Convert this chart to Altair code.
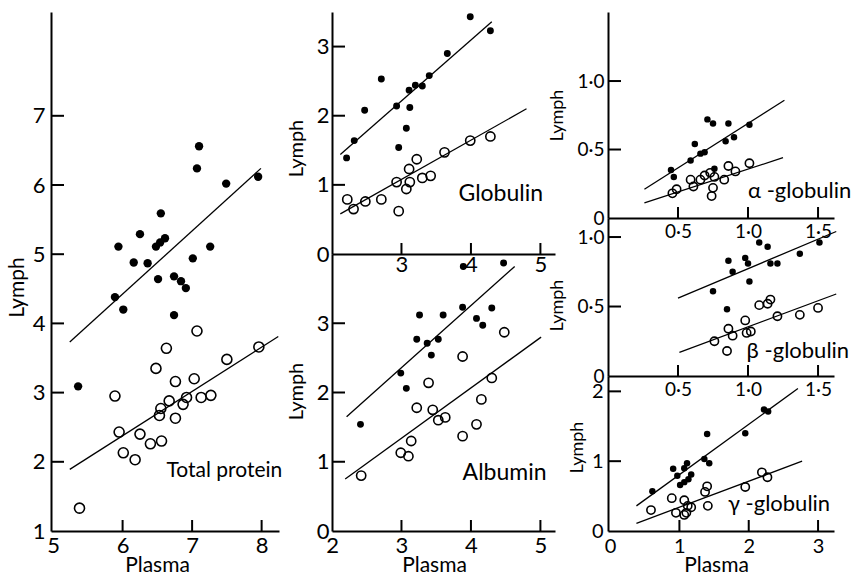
import altair as alt
import pandas as pd

FONT = "Lato, Open Sans, sans-serif"

# ---------------- data ----------------
# Total protein
tp_f_x = [7.10, 7.07, 7.49, 7.95, 6.55, 6.25, 5.94, 6.48, 6.54, 6.61, 7.26, 6.16, 6.36, 7.01, 6.51, 6.74, 6.84, 6.91, 5.89, 6.01, 6.74, 5.36]
tp_f_y = [6.56, 6.24, 6.02, 6.12, 5.59, 5.29, 5.11, 5.11, 5.17, 5.23, 5.11, 4.88, 4.87, 4.94, 4.64, 4.68, 4.61, 4.51, 4.38, 4.20, 4.12, 3.09]
tp_o_x = [7.07, 6.63, 6.48, 7.50, 7.96, 6.76, 7.03, 5.89, 7.13, 7.27, 6.92, 6.67, 6.87, 6.55, 6.53, 6.76, 5.95, 6.25, 6.40, 6.56, 6.01, 6.18, 5.38]
tp_o_y = [3.89, 3.64, 3.35, 3.48, 3.66, 3.16, 3.20, 2.95, 2.93, 2.96, 2.93, 2.88, 2.83, 2.77, 2.67, 2.63, 2.43, 2.40, 2.26, 2.30, 2.13, 2.03, 1.33]
tp_lf_x = [5.24, 7.99]
tp_lf_y = [3.73, 6.24]
tp_lo_x = [5.24, 8.24]
tp_lo_y = [1.89, 3.81]

# Globulin
gl_f_x = [3.99, 4.28, 3.66, 3.40, 2.71, 3.20, 3.30, 3.11, 2.93, 3.12, 2.47, 3.07, 2.32, 2.96, 2.21]
gl_f_y = [3.43, 3.23, 2.90, 2.58, 2.53, 2.44, 2.43, 2.37, 2.14, 2.12, 2.08, 1.82, 1.64, 1.54, 1.39]
gl_o_x = [4.28, 3.99, 3.62, 3.22, 3.11, 3.42, 3.30, 2.93, 3.12, 3.07, 2.22, 2.48, 2.71, 2.31, 2.96]
gl_o_y = [1.70, 1.64, 1.47, 1.37, 1.23, 1.13, 1.10, 1.04, 1.04, 0.94, 0.79, 0.76, 0.79, 0.65, 0.62]
gl_lf_x = [2.12, 4.30]
gl_lf_y = [1.44, 3.36]
gl_lo_x = [2.12, 4.80]
gl_lo_y = [0.58, 2.10]

# Albumin
al_f_x = [3.89, 4.47, 3.88, 4.30, 4.08, 4.17, 3.26, 3.60, 3.22, 3.37, 3.53, 3.43, 2.99, 3.07, 2.41]
al_f_y = [3.82, 3.87, 3.23, 3.22, 3.07, 2.97, 3.12, 3.12, 2.77, 2.71, 2.77, 2.54, 2.28, 2.06, 1.54]
al_o_x = [4.48, 3.88, 3.39, 4.30, 3.22, 3.45, 4.15, 3.53, 3.63, 4.08, 3.88, 3.14, 2.99, 3.10, 2.42]
al_o_y = [2.87, 2.52, 2.14, 2.21, 1.78, 1.75, 1.90, 1.60, 1.64, 1.54, 1.37, 1.30, 1.13, 1.08, 0.80]
al_lf_x = [2.21, 4.63]
al_lf_y = [1.65, 3.82]
al_lo_x = [2.19, 5.01]
al_lo_y = [0.75, 2.80]

# alpha-globulin
a_f_x = [0.71, 0.75, 0.86, 1.01, 0.90, 0.84, 0.62, 0.69, 0.66, 0.59, 0.45, 0.47, 0.76]
a_f_y = [0.72, 0.69, 0.69, 0.68, 0.59, 0.56, 0.54, 0.48, 0.47, 0.42, 0.35, 0.30, 0.36]
a_o_x = [1.01, 0.86, 0.91, 0.83, 0.73, 0.76, 0.69, 0.66, 0.59, 0.61, 0.75, 0.74, 0.49, 0.46]
a_o_y = [0.40, 0.38, 0.34, 0.28, 0.33, 0.30, 0.31, 0.28, 0.28, 0.23, 0.22, 0.16, 0.21, 0.18]
a_lf_x = [0.26, 1.26]
a_lf_y = [0.21, 0.86]
a_lo_x = [0.26, 1.25]
a_lo_y = [0.11, 0.44]

# beta-globulin
b_f_x = [1.08, 1.14, 1.51, 1.37, 0.98, 0.86, 1.00, 1.16, 1.21, 0.89, 1.01, 0.75, 0.85]
b_f_y = [0.96, 0.93, 0.96, 0.88, 0.85, 0.83, 0.81, 0.81, 0.81, 0.75, 0.68, 0.61, 0.48]
b_o_x = [1.08, 1.14, 1.16, 1.50, 1.37, 1.21, 0.98, 0.86, 1.02, 0.99, 0.89, 0.76, 0.85]
b_o_y = [0.51, 0.52, 0.55, 0.49, 0.44, 0.43, 0.40, 0.34, 0.32, 0.31, 0.29, 0.25, 0.18]
b_lf_x = [0.50, 1.63]
b_lf_y = [0.56, 1.04]
b_lo_x = [0.51, 1.63]
b_lo_y = [0.17, 0.59]

# gamma-globulin
g_f_x = [2.22, 2.28, 1.95, 1.40, 1.36, 1.43, 1.11, 1.07, 0.91, 0.97, 1.17, 1.13, 1.07, 1.01, 0.61]
g_f_y = [1.74, 1.71, 1.40, 1.39, 1.03, 0.97, 0.97, 0.90, 0.89, 0.79, 0.81, 0.74, 0.70, 0.66, 0.57]
g_o_x = [2.19, 2.27, 1.95, 1.40, 1.37, 1.41, 0.89, 1.07, 1.12, 1.17, 0.59, 0.95, 1.07, 1.10]
g_o_y = [0.84, 0.77, 0.63, 0.64, 0.56, 0.36, 0.47, 0.44, 0.36, 0.34, 0.30, 0.26, 0.23, 0.26]
g_lf_x = [0.38, 2.71]
g_lf_y = [0.36, 2.04]
g_lo_x = [0.38, 2.77]
g_lo_y = [0.11, 1.00]

INT_FMT = "format(datum.value, 'd')"
DEC_FMT = "datum.value == 0 ? '0' : replace(format(datum.value, '.1f'), '.', '\u00b7')"

W, H = 783, 519   # whole drawing area shared by the six panels


def panel(fx, fy, ox, oy, lfx, lfy, lox, loy, xdom, ydom, xr, yr,
          xlab, ylab, xtick, ytick, fmt, label, lab_xy,
          fsize, osize, ytitle_xy, xtitle_xy=None,
          xlabpad=5, ylabpad=5, lab_fs=22, ttl_fs=21, txt_fs=22):
    xs = alt.Scale(domain=xdom, range=xr, nice=False, zero=False)
    ys = alt.Scale(domain=ydom, range=yr, nice=False, zero=False)
    xoff = -(H - yr[0])      # move bottom axis up to the panel's bottom
    yoff = -xr[0]            # move left axis right to the panel's left edge
    xkw = dict(orient="bottom", values=xlab, labelExpr=fmt, tickSize=0, grid=False,
               offset=xoff, domainColor="black", domainWidth=2,
               labelFont=FONT, labelFontSize=lab_fs, labelColor="black",
               labelPadding=xlabpad, labelFlush=False, labelOverlap=False,
               titleFont=FONT, titleFontSize=21, titleFontWeight="normal",
               titleColor="black")
    if xtitle_xy:
        xkw.update(title="Plasma", titleX=xtitle_xy[0], titleY=xtitle_xy[1])
    else:
        xkw.update(title="")
    xaxis = alt.Axis(**xkw)
    yaxis = alt.Axis(orient="left", values=ylab, labelExpr=fmt, tickSize=0, grid=False,
                     offset=yoff, domainColor="black", domainWidth=2,
                     labelFont=FONT, labelFontSize=lab_fs, labelColor="black",
                     labelPadding=ylabpad, labelFlush=False, labelOverlap=False,
                     title="Lymph", titleFont=FONT, titleFontSize=ttl_fs,
                     titleFontWeight="normal", titleColor="black",
                     titleX=ytitle_xy[0], titleY=ytitle_xy[1])

    xpx = (xdom[1] - xdom[0]) / (xr[1] - xr[0])     # data units per pixel
    ypx = (ydom[1] - ydom[0]) / abs(yr[0] - yr[1])

    dfill = pd.DataFrame({"x": fx, "y": fy})
    dopen = pd.DataFrame({"x": ox, "y": oy})
    dline = pd.DataFrame({"x": lfx + lox, "y": lfy + loy,
                          "g": ["f"] * len(lfx) + ["o"] * len(lox)})
    dxt = pd.DataFrame({"x": xtick, "y": [ydom[0]] * len(xtick),
                        "y2": [ydom[0] + 11 * ypx] * len(xtick)})
    dyt = pd.DataFrame({"y": ytick, "x": [xdom[0]] * len(ytick),
                        "x2": [xdom[0] + 13 * xpx] * len(ytick)})
    dtxt = pd.DataFrame({"x": [lab_xy[0]], "y": [lab_xy[1]], "t": [label]})

    X = alt.X("x:Q", scale=xs, axis=xaxis)
    Y = alt.Y("y:Q", scale=ys, axis=yaxis)

    filled = alt.Chart(dfill).mark_point(shape="circle", filled=True, color="black",
                                         size=fsize, opacity=1).encode(x=X, y=Y)
    opened = alt.Chart(dopen).mark_point(shape="circle", filled=False, color="black",
                                         strokeWidth=1.6, size=osize, opacity=1).encode(x=X, y=Y)
    lines = alt.Chart(dline).mark_line(color="black", strokeWidth=1.3).encode(
        x=X, y=Y, detail="g:N")
    xt = alt.Chart(dxt).mark_rule(color="black", strokeWidth=2).encode(
        x=X, y=Y, y2="y2:Q")
    yt = alt.Chart(dyt).mark_rule(color="black", strokeWidth=2).encode(
        x=X, x2="x2:Q", y=Y)
    txt = alt.Chart(dtxt).mark_text(align="left", baseline="middle", font=FONT,
                                    fontSize=txt_fs, color="black").encode(
        x=X, y=Y, text="t:N")
    return alt.layer(filled, opened, lines, xt, yt, txt)


tp = panel(tp_f_x, tp_f_y, tp_o_x, tp_o_y, tp_lf_x, tp_lf_y, tp_lo_x, tp_lo_y,
           [4.97, 8.25], [1, 8.5], [0, 228], [519, 0],
           [5, 6, 7, 8], [1, 2, 3, 4, 5, 6, 7], [6, 7, 8], [2, 3, 4, 5, 6, 7], INT_FMT,
           "Total protein", (6.63, 1.87), 70, 100, (-24, 275), (106, 23),
           xlabpad=4, ylabpad=6, lab_fs=22, ttl_fs=21, txt_fs=21)

gl = panel(gl_f_x, gl_f_y, gl_o_x, gl_o_y, gl_lf_x, gl_lf_y, gl_lo_x, gl_lo_y,
           [2, 5.21], [0, 3.5], [281, 504], [242, 0],
           [3, 4, 5], [0, 1, 2, 3], [3, 4, 5], [1, 2, 3], INT_FMT,
           "Globulin", (3.82, 0.87), 48, 85, (-26, 136), None,
           xlabpad=0, ylabpad=3, lab_fs=22, ttl_fs=20, txt_fs=23)

al = panel(al_f_x, al_f_y, al_o_x, al_o_y, al_lf_x, al_lf_y, al_lo_x, al_lo_y,
           [2, 5.21], [0, 4.0], [281, 504], [519, 242],
           [2, 3, 4, 5], [0, 1, 2, 3], [3, 4, 5], [1, 2, 3], INT_FMT,
           "Albumin", (3.88, 0.84), 48, 85, (-26, 379), (383, 23),
           xlabpad=4, ylabpad=3, lab_fs=22, ttl_fs=20, txt_fs=23)

aa = panel(a_f_x, a_f_y, a_o_x, a_o_y, a_lf_x, a_lf_y, a_lo_x, a_lo_y,
           [0, 1.614], [0, 1.504], [557, 783], [206, 0],
           [0.5, 1.0, 1.5], [0, 0.5, 1.0], [0.5, 1.0, 1.5], [0.5, 1.0], DEC_FMT,
           "\u03b1 -globulin", (1.0, 0.20), 42, 68, (-42, 103), None,
           xlabpad=4, ylabpad=4, lab_fs=19, ttl_fs=18, txt_fs=22)

bb = panel(b_f_x, b_f_y, b_o_x, b_o_y, b_lf_x, b_lf_y, b_lo_x, b_lo_y,
           [0, 1.614], [0, 1.137], [557, 783], [364, 206],
           [0.5, 1.0, 1.5], [0, 0.5, 1.0], [0.5, 1.0, 1.5], [0.5, 1.0], DEC_FMT,
           "\u03b2 -globulin", (0.99, 0.18), 42, 68, (-42, 293), None,
           xlabpad=4, ylabpad=4, lab_fs=19, ttl_fs=18, txt_fs=22)

gg = panel(g_f_x, g_f_y, g_o_x, g_o_y, g_lf_x, g_lf_y, g_lo_x, g_lo_y,
           [-0.03, 3.23], [0, 2.22], [557, 783], [519, 364],
           [0, 1, 2, 3], [0, 1, 2], [1, 2, 3], [1, 2], INT_FMT,
           "\u03b3 -globulin", (1.70, 0.39), 42, 68, (-22, 435), (665, 23),
           xlabpad=5, ylabpad=5, lab_fs=20, ttl_fs=18, txt_fs=22)

chart = alt.layer(tp, gl, al, aa, bb, gg).resolve_scale(
    x="independent", y="independent"
).properties(
    width=W, height=H,
    padding={"left": 6, "top": 12, "right": 0, "bottom": 0},
    background="white",
).configure_view(stroke=None)

chart.save("out.html", embed_options={"renderer": "svg", "actions": False})
